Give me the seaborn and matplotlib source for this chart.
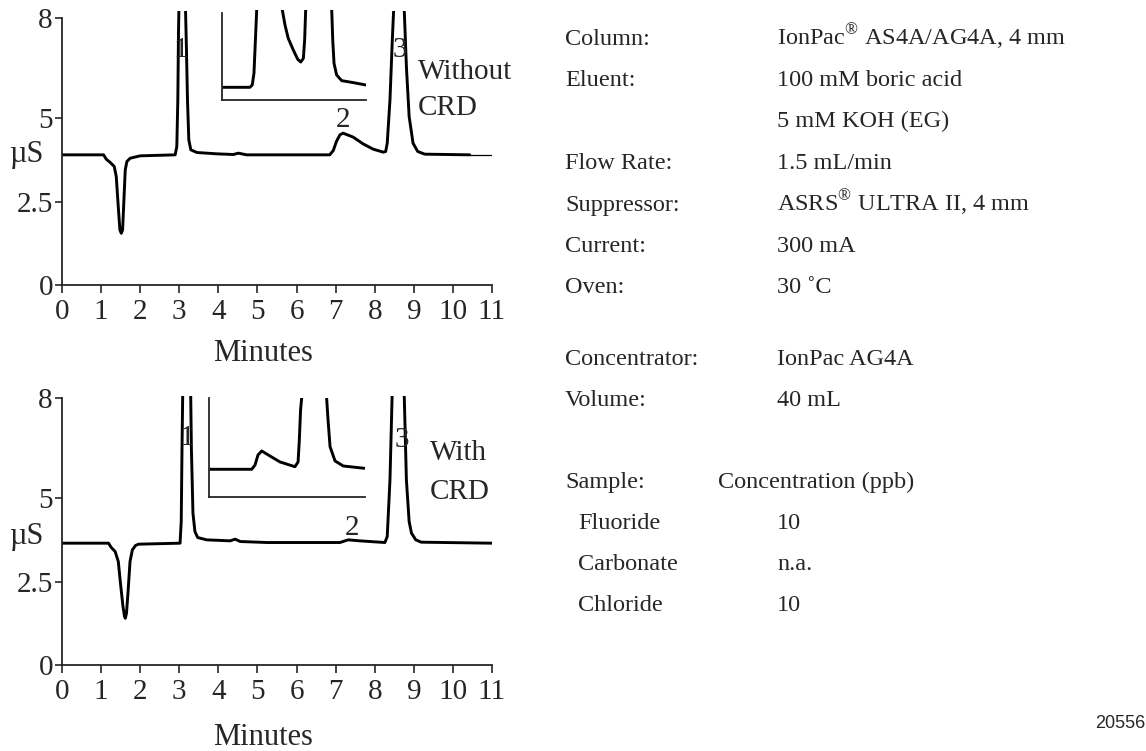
import matplotlib
matplotlib.use("Agg")
import matplotlib.pyplot as plt
import seaborn as sns

# chromatogram without CRD (minutes, uS)
time_top = [0, 1.064, 1.132, 1.235, 1.337, 1.388, 1.439, 1.481, 1.516, 1.55, 1.584, 1.618,
            1.66, 1.745, 2.0, 2.895, 2.937, 2.963, 2.98, 2.99, 3.07, 3.16, 3.184, 3.21,
            3.244, 3.295, 3.45, 3.96, 4.385, 4.51, 4.725, 6.85, 6.94, 7.02, 7.11, 7.19,
            7.45, 7.7, 7.96, 8.22, 8.28, 8.32, 8.39, 8.45, 8.49, 8.62, 8.75, 8.81, 8.88,
            8.98, 9.1, 9.28, 10.43]
cond_top = [3.9, 3.9, 3.77, 3.67, 3.55, 3.25, 2.35, 1.65, 1.55, 1.65, 2.55, 3.45,
            3.7, 3.8, 3.87, 3.9, 4.15, 5.55, 7.55, 8.25, 10.0, 8.25, 7.05, 5.55,
            4.35, 4.05, 3.97, 3.93, 3.91, 3.95, 3.9, 3.9, 4.03, 4.3, 4.5, 4.55,
            4.43, 4.23, 4.07, 3.98, 4.0, 4.25, 5.55, 7.35, 8.4, 10.0, 8.4, 6.55, 5.05,
            4.25, 4.0, 3.92, 3.9]
tail_time = [10.43, 11.0]
tail_cond = [3.9, 3.9]

# chromatogram with CRD
time_bot = [0, 1.19, 1.26, 1.36, 1.44, 1.5, 1.56, 1.6, 1.62, 1.65, 1.69, 1.74, 1.8, 1.88,
            1.96, 3.02, 3.05, 3.07, 3.09, 3.19, 3.29, 3.31, 3.35, 3.4, 3.47, 3.7, 4.3, 4.43,
            4.56, 5.24, 7.11, 7.32, 7.62, 8.26, 8.32, 8.39, 8.45, 8.6, 8.75, 8.81, 8.88,
            8.94, 9.05, 9.19, 11.0]
cond_bot = [3.65, 3.65, 3.52, 3.4, 3.1, 2.4, 1.75, 1.45, 1.4, 1.55, 2.2, 3.1, 3.45, 3.58,
            3.62, 3.65, 4.3, 6.5, 8.3, 10.0, 8.3, 6.5, 4.55, 4.0, 3.82, 3.75, 3.72, 3.77,
            3.7, 3.67, 3.67, 3.75, 3.72, 3.67, 3.85, 5.55, 8.3, 10.0, 8.3, 5.55, 4.3,
            3.95, 3.75, 3.68, 3.65]

# magnified insets (arbitrary units, 0-10 box)
inset_top_x = [0.02, 1.94, 2.1, 2.22, 2.29, 2.36, 2.41, 3.3, 4.19, 4.375, 4.6, 4.95, 5.26,
               5.47, 5.65, 5.74, 5.81, 6.7, 7.62, 7.69, 7.78, 7.96, 8.31, 9.12, 9.98]
inset_top_y = [1.41, 1.41, 1.67, 2.96, 5.56, 8.15, 10, 14, 10, 8.33, 6.85, 5.56, 4.52,
               4.22, 4.63, 6.67, 10, 14, 10, 6.67, 4.07, 2.78, 2.15, 1.93, 1.67]
inset_bot_x = [0.02, 2.74, 2.95, 3.14, 3.38, 3.91, 4.55, 5.51, 5.71, 5.79, 5.87, 5.94, 6.7,
               7.54, 7.63, 7.76, 8.08, 8.61, 9.96]
inset_bot_y = [2.8, 2.8, 3.23, 4.24, 4.65, 4.14, 3.54, 3.06, 3.54, 5.76, 8.8, 10, 14,
               10, 7.8, 5.08, 3.64, 3.13, 2.9]

x_ticks = list(range(12))
y_ticks = [0, 2.5, 5, 8]
y_tick_labels = ["0", "2.5", "5", "8"]

conditions = [("Column:", "IonPac$^{®}$ AS4A/AG4A, 4 mm"),
              ("Eluent:", "100 mM boric acid"),
              ("", "5 mM KOH (EG)"),
              ("Flow Rate:", "1.5 mL/min"),
              ("Suppressor:", "ASRS$^{®}$ ULTRA II, 4 mm"),
              ("Current:", "300 mA"),
              ("Oven:", "30 ˚C")]
concentrator = [("Concentrator:", "IonPac AG4A"), ("Volume:", "40 mL")]
analytes = ["Fluoride", "Carbonate", "Chloride"]
conc_ppb = ["10", "n.a.", "10"]

sns.set_style("ticks")
plt.rcParams["font.family"] = ["Liberation Serif", "DejaVu Serif"]
plt.rcParams["mathtext.fontset"] = "custom"
plt.rcParams["mathtext.rm"] = "Liberation Serif"

W, H = 1146, 751
fig = plt.figure(figsize=(W / 100, H / 100), dpi=100)


def px_axes(x0, y_top, x1, y_bot):
    return fig.add_axes([x0 / W, 1 - y_bot / H, (x1 - x0) / W, (y_bot - y_top) / H])


def style_main(ax, ytop):
    ax.set_xlim(0, 11)
    ax.set_ylim(0, ytop)
    sns.despine(ax=ax)
    ax.spines["left"].set_bounds(0, 8)
    ax.spines["left"].set_linewidth(1.3)
    ax.spines["bottom"].set_linewidth(1.3)
    ax.set_xticks(x_ticks)
    ax.set_yticks(y_ticks)
    ax.set_yticklabels(y_tick_labels)
    ax.tick_params(axis="x", length=6, width=1.2, pad=4, labelsize=21)
    ax.tick_params(axis="y", length=5, width=1.2, pad=1.5, labelsize=21)
    ax.set_ylabel("µS", rotation=0, fontsize=22, ha="center", va="center")
    ax.set_xlabel("Minutes", fontsize=22, va="center")
    ax.patch.set_visible(False)


def style_inset(ax, left_top):
    ax.set_xlim(0, 10)
    ax.set_ylim(0, 10)
    ax.set_xticks([])
    ax.set_yticks([])
    for s in ["top", "right"]:
        ax.spines[s].set_visible(False)
    ax.spines["left"].set_bounds(0, left_top)
    ax.spines["left"].set_linewidth(1.3)
    ax.spines["bottom"].set_linewidth(1.3)
    ax.patch.set_visible(False)


# top panel
ax1 = px_axes(62, 285 - 8.2 * 33.375, 492, 285)
sns.lineplot(x=time_top, y=cond_top, ax=ax1, color="black", lw=2.1, sort=False, estimator=None)
sns.lineplot(x=tail_time, y=tail_cond, ax=ax1, color="black", lw=0.9, sort=False, estimator=None)
style_main(ax1, 8.2)
ax1.yaxis.set_label_coords(-36 / 430, 3.9 / 8.2)
ax1.xaxis.set_label_coords(201 / 430, -69 / 273.7)
ax1.text(3.04, 7.04, "1", fontsize=21, ha="center", va="center")
ax1.text(7.19, 4.94, "2", fontsize=21, ha="center", va="center")
ax1.text(8.64, 7.04, "3", fontsize=21, ha="center", va="center")
ax1.text(9.1, 6.38, "Without", fontsize=21, ha="left", va="center")
ax1.text(9.1, 5.3, "CRD", fontsize=21, ha="left", va="center")

in1 = px_axes(222, 10, 366, 100)
sns.lineplot(x=inset_top_x, y=inset_top_y, ax=in1, color="black", lw=2.1, sort=False, estimator=None)
style_inset(in1, 9.67)

# bottom panel
ax2 = px_axes(62, 665 - 8.05 * 33.375, 492, 665)
sns.lineplot(x=time_bot, y=cond_bot, ax=ax2, color="black", lw=2.1, sort=False, estimator=None)
style_main(ax2, 8.05)
ax2.yaxis.set_label_coords(-36 / 430, 3.85 / 8.05)
ax2.xaxis.set_label_coords(201 / 430, -73 / 268.7)
ax2.text(3.19, 6.79, "1", fontsize=21, ha="center", va="center")
ax2.text(7.41, 4.09, "2", fontsize=21, ha="center", va="center")
ax2.text(8.69, 6.74, "3", fontsize=21, ha="center", va="center")
ax2.text(9.41, 6.35, "With", fontsize=21, ha="left", va="center")
ax2.text(9.41, 5.19, "CRD", fontsize=21, ha="left", va="center")

in2 = px_axes(209, 398, 365, 497)
sns.lineplot(x=inset_bot_x, y=inset_bot_y, ax=in2, color="black", lw=2.1, sort=False, estimator=None)
style_inset(in2, 10)

# method conditions (baselines in pixels)
fs = 17.5
rows_y = [45, 86, 127, 169, 211, 252, 293]
for (lab, val), yy in zip(conditions, rows_y):
    fig.text(565 / W, 1 - yy / H, lab, fontsize=fs, va="baseline")
    fig.text(777 / W, 1 - yy / H, val, fontsize=fs, va="baseline")
for (lab, val), yy in zip(concentrator, [365, 406]):
    fig.text(565 / W, 1 - yy / H, lab, fontsize=fs, va="baseline")
    fig.text(777 / W, 1 - yy / H, val, fontsize=fs, va="baseline")
fig.text(565 / W, 1 - 488 / H, "Sample:", fontsize=fs, va="baseline")
fig.text(718 / W, 1 - 488 / H, "Concentration (ppb)", fontsize=fs, va="baseline")
for name, c, yy in zip(analytes, conc_ppb, [529, 570, 611]):
    fig.text(578 / W, 1 - yy / H, name, fontsize=fs, va="baseline")
    fig.text(777 / W, 1 - yy / H, c, fontsize=fs, va="baseline")

fig.text(1145 / W, 1 - 723 / H, "20556", fontsize=13, ha="right", va="center",
         family=["Liberation Sans Narrow", "Liberation Sans", "DejaVu Sans"])

fig.savefig("out.png", dpi=100)
